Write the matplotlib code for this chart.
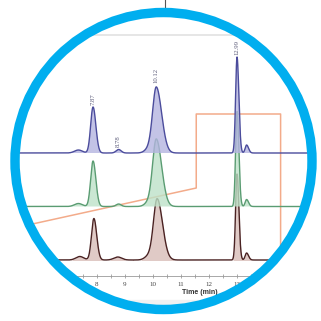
import numpy as np
import matplotlib
matplotlib.use("Agg")
import matplotlib.pyplot as plt
from matplotlib.patches import Circle, Rectangle

# ---------------- data ----------------
# peak tables: retention time (min), height (signal units), left/right width (min)
blue_rt = [7.35, 7.87, 8.78, 9.85, 10.12, 12.99, 13.33]
blue_h = [3, 46, 3.5, 4, 65.5, 96, 8]
blue_wl = [0.14, 0.085, 0.09, 0.14, 0.13, 0.05, 0.05]
blue_wr = [0.14, 0.10, 0.09, 0.14, 0.19, 0.065, 0.07]

green_rt = [7.35, 7.87, 8.78, 9.85, 10.12, 12.99, 13.33]
green_h = [3, 45.5, 2.5, 4, 67, 95, 7]
green_wl = [0.14, 0.085, 0.09, 0.14, 0.13, 0.05, 0.05]
green_wr = [0.14, 0.10, 0.09, 0.14, 0.19, 0.065, 0.07]

brown_rt = [7.40, 7.90, 8.75, 9.85, 10.15, 12.99, 13.33]
brown_h = [3.5, 41.5, 3, 4, 61, 86, 7]
brown_wl = [0.14, 0.085, 0.14, 0.14, 0.13, 0.05, 0.05]
brown_wr = [0.14, 0.10, 0.14, 0.14, 0.19, 0.065, 0.07]

# baseline offsets of the stacked traces
offsets = {"blue": 168.0, "green": 114.5, "brown": 61.0}

peak_labels = ["7.87", "8.78", "10.12", "12.99"]
label_rt = [7.87, 8.78, 10.12, 12.99]
label_y = [216, 174, 238, 266]

# gradient program (time, level)
grad_t = [4.5, 11.54, 11.54, 14.54, 14.54]
grad_y = [89.5, 133, 207, 207, 61]

tick_major = [8, 9, 10, 11, 12, 13]
x_label = "Time (min)"

# ---------------- drawing ----------------
W = 321
fig = plt.figure(figsize=(3.21, 3.21), dpi=100)
fig.patch.set_facecolor("white")
t0 = 8 - 96.7 / 28.12
t1 = 8 + (W - 96.7) / 28.12
ax = fig.add_axes([0, 0, 1, 1])
ax.set_xlim(t0, t1)
ax.set_ylim(0, W)
ax.set_facecolor("none")

clip = Circle((163.5 / W, 1 - 161 / W), 148.5 / W, transform=fig.transFigure,
              facecolor="none", edgecolor="none")
fig.add_artist(clip)

t = np.linspace(t0, t1, 4000)


def trace(rts, hs, wl, wr):
    y = np.zeros_like(t)
    for r, h, a, b in zip(rts, hs, wl, wr):
        s = np.where(t < r, a, b)
        y += h * np.exp(-0.5 * ((t - r) / s) ** 2)
    return y


series = [
    ("brown", brown_rt, brown_h, brown_wl, brown_wr, "#4a2222", "#d9bdb8", 14.54),
    ("green", green_rt, green_h, green_wl, green_wr, "#5a9c72", "#bde2c8", t1),
    ("blue", blue_rt, blue_h, blue_wl, blue_wr, "#4b4c9c", "#b4b4e0", t1),
]

arts = []
# panel edges
arts.append(ax.axhline(W - 35, color="#e2e2e2", lw=1.2, zorder=0))
arts.append(ax.add_patch(Rectangle((t0, 0), t1 - t0, W - 300, color="#f1f1f1", zorder=0)))

z = 2
for name, rts, hs, wl, wr, lc, fc, tend in series:
    m = t <= tend
    y = trace(rts, hs, wl, wr) + offsets[name]
    arts.append(ax.fill_between(t[m], offsets[name], y[m], color=fc, alpha=0.8, lw=0, zorder=z))
    arts += ax.plot(t[m], y[m], color=lc, lw=1.0, zorder=z + 0.5)
    z += 1

arts += ax.plot(grad_t, grad_y, color="#f3ab8a", lw=1.1, zorder=1.5)

for lab, r, yy in zip(peak_labels, label_rt, label_y):
    arts.append(ax.text(r, yy, lab, rotation=90, ha="center", va="bottom",
                        fontsize=4.8, color="#5a5a78", family="Liberation Serif", zorder=10))

for a in arts:
    a.set_clip_path(clip)

# x axis via the axes' own spine/ticks
for sp in ["top", "left", "right"]:
    ax.spines[sp].set_visible(False)
ax.spines["bottom"].set_position(("data", W - 275.7))
ax.spines["bottom"].set_color("#9a9a9a")
ax.spines["bottom"].set_linewidth(0.6)
ax.spines["bottom"].set_clip_path(clip)
ax.set_xticks(tick_major)
ax.set_xticks(np.arange(7.5, 14.0, 0.5), minor=True)
ax.tick_params(axis="x", which="both", direction="inout", length=2.5, width=0.5,
               color="#888888", labelsize=5, labelcolor="#444444", pad=3)
ax.set_yticks([])
for tl in ax.get_xticklabels():
    tl.set_family("Liberation Serif")
fig.text(199.5 / W, 1 - 293 / W, x_label, ha="center", va="center",
         fontsize=5, fontweight="bold", color="#333333", family="Liberation Sans")

# ring and pointer line
ring = Circle((163.5 / W, 1 - 161 / W), 148.5 / W, transform=fig.transFigure,
              facecolor="none", edgecolor="#00aeef", lw=6.8, zorder=20)
fig.add_artist(ring)
fig.add_artist(plt.Line2D([165 / W, 165 / W], [1, 1 - 9 / W], transform=fig.transFigure,
                          color="#555555", lw=0.8, zorder=19))

fig.savefig("out.png", dpi=100, facecolor="white")
